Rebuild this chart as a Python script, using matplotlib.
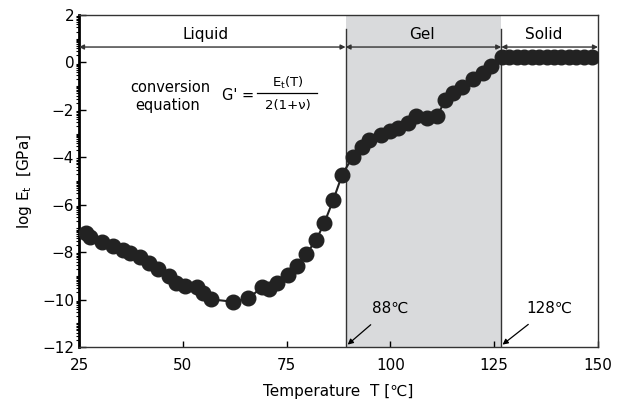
import numpy as np
import matplotlib
matplotlib.use("Agg")
import matplotlib.pyplot as plt
from matplotlib.ticker import FixedLocator

plt.rcParams['font.family'] = ['DejaVu Sans', 'Noto Sans CJK JP']

# measured points (temperature in C, log Et in GPa)
temp = [26.7, 27.6, 30.5, 33.1, 35.7, 37.3, 39.7, 41.9, 44.1, 46.7, 48.4, 50.5,
        53.3, 54.9, 56.9, 62.0, 65.8, 69.0, 70.8, 72.8, 75.4, 77.4, 79.7, 82.1,
        84.1, 86.2, 88.4, 90.9, 93.1, 94.9, 97.7, 99.9, 101.9, 104.3, 106.2,
        108.7, 111.3, 113.2, 115.0, 117.2, 119.8, 122.2, 124.2,
        126.8, 128.6, 130.4, 132.2, 134.0, 135.8, 137.6, 139.4, 141.2, 143.0,
        144.8, 146.6, 148.5]
log_et = [-7.19, -7.38, -7.56, -7.73, -7.91, -8.05, -8.22, -8.47, -8.69, -9.0,
          -9.32, -9.43, -9.46, -9.74, -9.99, -10.09, -9.95, -9.49, -9.57, -9.32,
          -8.97, -8.59, -8.08, -7.50, -6.76, -5.82, -4.73, -3.98, -3.56, -3.27,
          -3.06, -2.89, -2.78, -2.57, -2.26, -2.36, -2.26, -1.58, -1.30, -1.02,
          -0.71, -0.43, -0.14,
          0.25, 0.25, 0.25, 0.25, 0.25, 0.25, 0.25, 0.25, 0.25, 0.25, 0.25,
          0.25, 0.25]

gel_start = 89.2
gel_end = 126.7
phases = ['Liquid', 'Gel', 'Solid']
phase_label_x = [55.6, 107.6, 137.0]
x_ticks = [25, 50, 75, 100, 125, 150]
y_ticks = [2, 0, -2, -4, -6, -8, -10, -12]

fig = plt.figure(figsize=(6.25, 4.07), dpi=100)
ax = fig.add_axes([0.1264, 0.1474, 0.8304, 0.8157])

ax.axvspan(gel_start, gel_end, color='#d9dadc', lw=0, zorder=0)
for xv in (gel_start, gel_end):
    ax.plot([xv, xv], [-12, 1.42], color='#333333', lw=1.0, zorder=1)

ax.plot(temp, log_et, color='#222222', lw=1.5, marker='o', ms=10.5,
        mfc='#222222', mec='#222222', zorder=3)

# phase arrows
bounds = [25, gel_start, gel_end, 150]
for i, name in enumerate(phases):
    ax.annotate('', xy=(bounds[i], 0.65), xytext=(bounds[i + 1], 0.65),
                arrowprops=dict(arrowstyle='<|-|>', color='#333333', lw=1.0,
                                shrinkA=0, shrinkB=0, mutation_scale=7))
    ax.text(phase_label_x[i], 1.17, name, ha='center', va='center', fontsize=11)

# conversion equation
ax.text(47.0, -1.05, 'conversion', ha='center', va='center', fontsize=10.5)
ax.text(46.4, -1.8, 'equation', ha='center', va='center', fontsize=10.5)
ax.text(63.3, -1.4, "G' =", ha='center', va='center', fontsize=10.5)
ax.plot([67.9, 82.3], [-1.3, -1.3], color='black', lw=0.9)
ax.text(75.4, -0.85, r'E$_\mathrm{t}$(T)', ha='center', va='center', fontsize=9.5)
ax.text(75.4, -1.83, '2(1+ν)', ha='center', va='center', fontsize=9.5)

# transition temperature callouts
ax.annotate('88℃', xy=(89.7, -11.9), xytext=(99.9, -10.36), ha='center',
            va='center', fontsize=11,
            arrowprops=dict(arrowstyle='-|>', color='black', lw=0.9,
                            shrinkA=7, shrinkB=0, mutation_scale=8))
ax.annotate('128℃', xy=(127.0, -11.9), xytext=(138.2, -10.36), ha='center',
            va='center', fontsize=11,
            arrowprops=dict(arrowstyle='-|>', color='black', lw=0.9,
                            shrinkA=7, shrinkB=0, mutation_scale=8))

ax.set_xlim(25, 150)
ax.set_ylim(-12, 2)
ax.set_xticks(x_ticks)
ax.set_yticks(y_ticks)
odd = [v for v in range(-11, 2, 2)]
minor = [n + np.log10(k) for n in range(-12, 2) for k in range(2, 10)]
ax.yaxis.set_minor_locator(FixedLocator(minor + odd))
ax.tick_params(axis='both', direction='in', labelsize=11, colors='black')
ax.tick_params(axis='y', which='major', length=5, width=1.0)
ax.tick_params(axis='y', which='minor', length=2.5, width=0.8)
ax.tick_params(axis='x', which='major', length=4, width=1.0, pad=8)
for side in ['top', 'right', 'bottom']:
    ax.spines[side].set_linewidth(1.0)
    ax.spines[side].set_color('#333333')
ax.spines['left'].set_linewidth(2.0)

ax.set_xlabel('Temperature  T [℃]', fontsize=11, labelpad=8)
ax.set_ylabel(r'log E$_\mathrm{t}$  [GPa]', fontsize=11, labelpad=6)

fig.savefig('out.png', dpi=100)
